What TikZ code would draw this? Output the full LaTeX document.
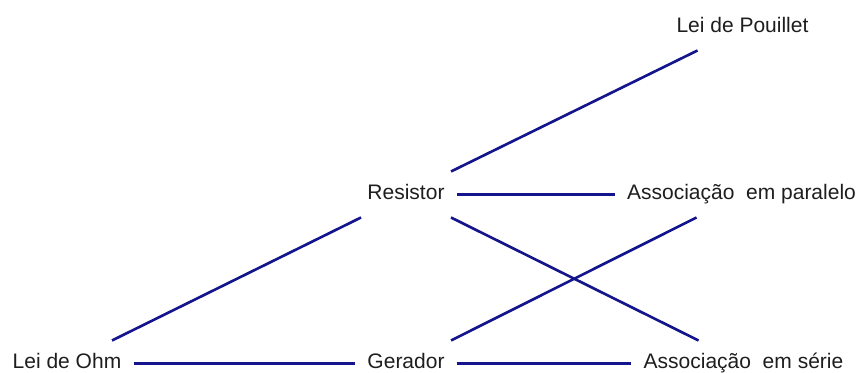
\documentclass[tikz,border=0pt]{standalone}
\usepackage{fontspec}
\setmainfont{Liberation Sans}
\definecolor{linkblue}{RGB}{20,20,140}
\definecolor{textgray}{RGB}{30,30,30}
\begin{document}
\begin{tikzpicture}[
    concept/.style={font=\fontsize{11.95}{14}\selectfont, text=textgray,
        text height=0.31cm, text depth=0.09cm, inner xsep=0.24cm, inner ysep=0pt},
    link/.style={draw=linkblue, line width=1.5pt}
]
    \useasboundingbox (0,0) rectangle (17.26,7.46);

    % Top row
    \node[concept] (pou) at (14.85,6.91) {Lei de Pouillet};

    % Middle row
    \node[concept] (res) at (8.12,3.57) {Resistor};
    \node[concept] (par) at (14.83,3.57) {Associação\ \ em paralelo};

    % Bottom row
    \node[concept] (ohm) at (1.34,0.19) {Lei de Ohm};
    \node[concept] (ger) at (8.12,0.19) {Gerador};
    \node[concept] (ser) at (14.87,0.19) {Associação\ \ em série};

    % Horizontal links
    \draw[link] (res) -- (par);
    \draw[link] (ohm) -- (ger);
    \draw[link] (ger) -- (ser);

    % Diagonal links
    \draw[link] ([shift={(0.9,0.46)}]res.center) -- ([shift={(-0.9,-0.46)}]pou.center);
    \draw[link] ([shift={(-0.9,-0.46)}]res.center) -- ([shift={(0.9,0.46)}]ohm.center);
    \draw[link] ([shift={(0.9,-0.46)}]res.center) -- ([shift={(-0.9,0.46)}]ser.center);
    \draw[link] ([shift={(0.9,0.46)}]ger.center) -- ([shift={(-0.9,-0.46)}]par.center);
\end{tikzpicture}
\end{document}
